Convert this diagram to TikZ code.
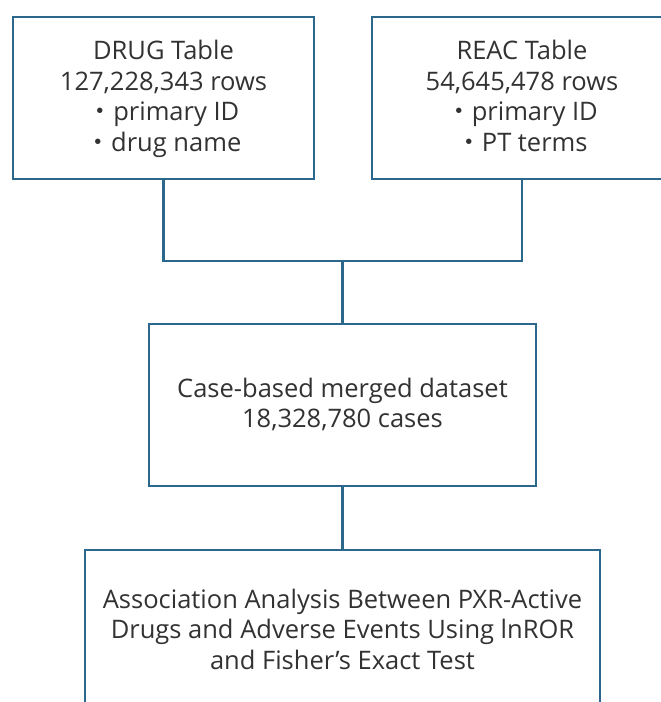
\documentclass[tikz,border=0pt]{standalone}
\usepackage{fontspec}
\setmainfont{Open Sans}
\newfontfamily\jpfont{Noto Sans CJK JP}
\newcommand{\dotmark}{{\jpfont ・}}
% slightly taller first line so the text block sits a touch lower
\newcommand{\topstrut}{\rule{0pt}{24.5pt}}
\definecolor{boxline}{RGB}{44,104,140}
\definecolor{ink}{RGB}{50,50,50}
\tikzset{
  flowbox/.style={draw=boxline, line width=2.2pt, fill=white, inner sep=0pt, outer sep=0pt,
    align=center, text=ink, font=\fontsize{25.5}{30.5}\selectfont},
  link/.style={draw=boxline, line width=2.2pt}
}
\begin{document}
\begin{tikzpicture}[x=1pt,y=-1pt]
  \useasboundingbox (0,0) rectangle (661,702);
  \clip (0,0) rectangle (661,702);
  \fill[white] (0,0) rectangle (661,702);

  % source tables
  \node[flowbox, minimum width=301pt, minimum height=162pt] (drug) at (163.5,98)
    {\topstrut DRUG Table\\127,228,343 rows\\\dotmark primary ID\\\dotmark drug name\strut};
  \node[flowbox, minimum width=300pt, minimum height=162pt] (reac) at (522,98)
    {\topstrut REAC Table\\54,645,478 rows\\\dotmark primary ID\\\dotmark PT terms\strut};

  % merged dataset and analysis
  \node[flowbox, minimum width=387pt, minimum height=162pt] (merged) at (342.5,405)
    {\topstrut Case-based merged dataset\\18,328,780 cases\strut};
  \node[flowbox, minimum width=515pt, minimum height=162pt] (assoc) at (342.5,631)
    {\topstrut Association Analysis Between PXR-Active\\Drugs and Adverse Events Using lnROR\\and Fisher's Exact Test\strut};

  % connectors
  \coordinate (join) at (342.5,261);
  \draw[link] (drug.south) |- (join) -| (reac.south);
  \draw[link] (join) -- (merged.north);
  \draw[link] (merged.south) -- (assoc.north);
\end{tikzpicture}
\end{document}
